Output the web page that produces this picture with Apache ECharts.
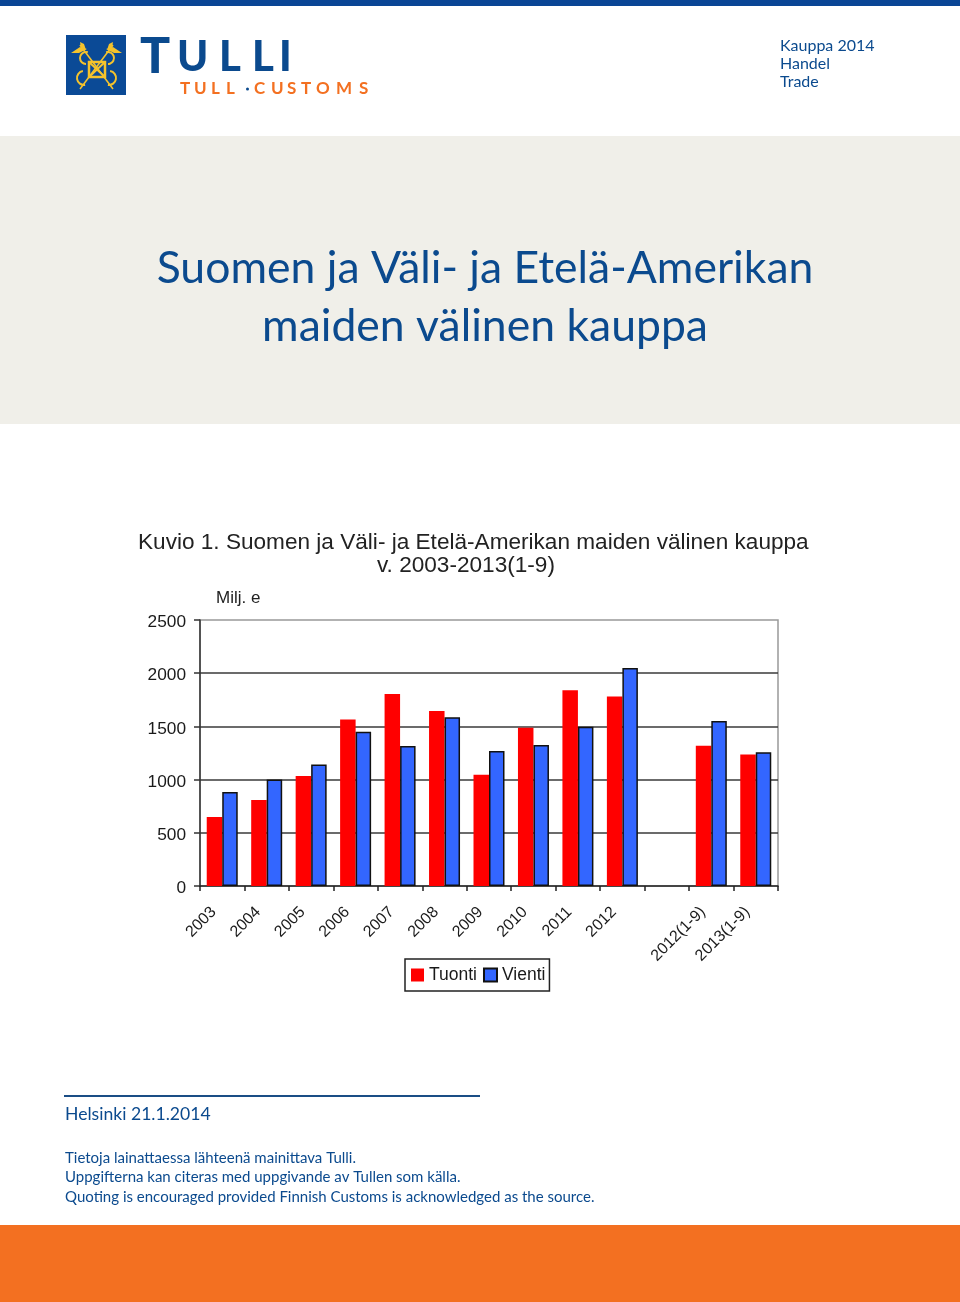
<!DOCTYPE html>
<html>
<head>
<meta charset="utf-8">
<style>
html, body { margin: 0; padding: 0; background: #fff; }
#main { width: 960px; height: 1302px; }
</style>
<script src="https://cdn.jsdelivr.net/npm/echarts@6/dist/echarts.min.js"></script>
</head>
<body>
<div id="main"></div>
<script>
const categories = ['2003', '2004', '2005', '2006', '2007', '2008', '2009', '2010', '2011', '2012', '', '2012(1-9)', '2013(1-9)']
const tuonti = [648, 808, 1034, 1566, 1804, 1645, 1046, 1488, 1839, 1782, null, 1319, 1237]
const vienti = [883, 1000, 1143, 1450, 1316, 1585, 1269, 1325, 1497, 2049, null, 1551, 1256]
const yTicks = [0, 500, 1000, 1500, 2000, 2500]

const blue = '#0b4a8e'
const gold = '#f5c32c'
const orange = '#f37021'
const gill = 'Lato'

function txt(text, x, y, size, opts = {}) {
  return {
    type: 'text',
    x: x,
    y: y,
    style: Object.assign({
      text: text,
      fill: blue,
      fontFamily: gill,
      fontSize: size,
      verticalAlign: 'middle'
    }, opts)
  }
}
function rect(x, y, w, h, fill) {
  return { type: 'rect', shape: { x, y, width: w, height: h }, style: { fill: fill } }
}
function gline(x1, y1, x2, y2, w = 1.5) {
  return { type: 'line', shape: { x1, y1, x2, y2 }, style: { stroke: gold, lineWidth: w } }
}
function loop(cx, cy, r, a1, a2) {
  return { type: 'arc', shape: { cx, cy, r, startAngle: a1, endAngle: a2 }, style: { stroke: gold, lineWidth: 2, fill: null } }
}
function leaf(points) {
  return { type: 'polygon', shape: { points: points }, style: { fill: gold } }
}

// logo letters placed one by one, canvas text has no tracking here
const bigLetters = [['T', 140, 57, 50], ['U', 177, 57, 42], ['L', 219, 57, 42], ['L', 252, 57, 42], ['I', 279, 57, 42]]
const smallLetters = [['T', 180], ['U', 194], ['L', 211], ['L', 226], ['C', 254], ['U', 271], ['S', 287], ['T', 301], ['O', 316], ['M', 336], ['S', 359]]

const graphic = [
  rect(0, 0, 960, 6, '#0a4595'),
  rect(0, 136, 960, 288, '#f0efe9'),
  rect(0, 1225, 960, 77, orange),
  // logo
  rect(66, 35, 60, 60, '#0b4a96'),
  gline(80, 45, 113, 89),
  gline(113, 45, 80, 89),
  { type: 'rect', shape: { x: 89, y: 62, width: 16, height: 15 }, style: { stroke: gold, lineWidth: 2.5, fill: null } },
  gline(89, 62, 105, 77, 2),
  gline(105, 62, 89, 77, 2),
  loop(86, 58, 6, Math.PI * 0.5, Math.PI * 1.6),
  loop(108, 58, 6, -Math.PI * 0.6, Math.PI * 0.5),
  loop(84, 78, 7, Math.PI * 0.45, Math.PI * 1.45),
  loop(109, 78, 7, -Math.PI * 0.45, Math.PI * 0.55),
  leaf([[71, 53], [80, 47], [87, 49], [79, 53]]),
  leaf([[80, 42], [84, 44], [86, 50], [81, 48]]),
  leaf([[122, 53], [113, 47], [106, 49], [114, 53]]),
  leaf([[113, 42], [109, 44], [107, 50], [112, 48]]),
  txt('Kauppa 2014', 780, 46, 16),
  txt('Handel', 780, 64, 16),
  txt('Trade', 780, 82, 16),
  txt('Suomen ja Väli- ja Etelä-Amerikan', 485, 269, 44.5, { align: 'center' }),
  txt('maiden välinen kauppa', 485, 327, 44.5, { align: 'center' }),
  { type: 'line', shape: { x1: 64, y1: 1096, x2: 480, y2: 1096 }, style: { stroke: '#1a4d85', lineWidth: 2 } },
  txt('Helsinki 21.1.2014', 65, 1114, 17.6),
  txt('Tietoja lainattaessa lähteenä mainittava Tulli.', 65, 1158, 15),
  txt('Uppgifterna kan citeras med uppgivande av Tullen som källa.', 65, 1177, 15),
  txt('Quoting is encouraged provided Finnish Customs is acknowledged as the source.', 65, 1197, 15),
  { type: 'circle', shape: { cx: 247.5, cy: 89, r: 1.5 }, style: { fill: blue } }
]
bigLetters.forEach(l => {
  graphic.push(txt(l[0], l[1], l[2], l[3], { fontWeight: 900 }))
})
smallLetters.forEach(l => {
  graphic.push(txt(l[0], l[1], 89, 17, { fill: orange, fontWeight: 'bold' }))
})

const titleStyle = { fontFamily: 'Liberation Sans', fontWeight: 'normal', fontSize: 22.6, color: '#222' }

var chartDom = document.getElementById('main')
var myChart = echarts.init(chartDom, null, { renderer: 'canvas' })
var option = {
  animation: false,
  backgroundColor: '#fff',
  textStyle: { fontFamily: 'Liberation Sans', color: '#1a1a1a' },
  title: [
    { text: 'Kuvio 1. Suomen ja Väli- ja Etelä-Amerikan maiden välinen kauppa', left: 133, top: 526, textStyle: titleStyle },
    { text: 'v. 2003-2013(1-9)', left: 372, top: 549, textStyle: titleStyle }
  ],
  grid: {
    left: 200,
    top: 620,
    width: 578,
    height: 266,
    show: true,
    borderColor: '#999',
    borderWidth: 1.5,
    backgroundColor: 'transparent'
  },
  legend: {
    left: 405,
    top: 959,
    orient: 'horizontal',
    icon: 'rect',
    itemWidth: 13,
    itemHeight: 13,
    itemGap: 6,
    padding: [7, 4, 7, 6],
    borderColor: '#222',
    borderWidth: 1.5,
    textStyle: { fontFamily: 'Liberation Sans', fontSize: 17.5, color: '#1a1a1a' },
    data: ['Tuonti', 'Vienti']
  },
  xAxis: {
    type: 'category',
    data: categories,
    axisLine: { lineStyle: { color: '#222', width: 1.5 } },
    axisTick: { show: true, alignWithLabel: false, length: 5, lineStyle: { color: '#222', width: 1.5 } },
    axisLabel: { interval: 0, rotate: 45, fontSize: 16, margin: 15, padding: [0, 12, 0, 0], color: '#1a1a1a' }
  },
  yAxis: {
    type: 'value',
    min: yTicks[0],
    max: yTicks[yTicks.length - 1],
    interval: yTicks[1] - yTicks[0],
    name: 'Milj. e',
    nameLocation: 'end',
    nameGap: 13,
    nameTextStyle: { fontFamily: 'Liberation Sans', fontSize: 17, color: '#222', align: 'left', padding: [0, 0, 0, 16] },
    axisLine: { show: true, lineStyle: { color: '#333', width: 1.5 } },
    axisTick: { show: true, length: 6, lineStyle: { color: '#333', width: 1.5 } },
    axisLabel: {
      margin: 14,
      formatter: v => '{v|' + v + '}',
      rich: { v: { fontSize: 17.3, color: '#1a1a1a', padding: [5, 0, 0, 0] } }
    },
    splitLine: { show: true, showMinLine: false, showMaxLine: false, lineStyle: { color: '#3a3a3a', width: 1.5 } }
  },
  series: [
    {
      name: 'Tuonti',
      type: 'bar',
      data: tuonti,
      barWidth: 15.5,
      barGap: 0,
      itemStyle: { color: '#ff0000' }
    },
    {
      name: 'Vienti',
      type: 'bar',
      data: vienti,
      barWidth: 15.5,
      barGap: 0,
      itemStyle: { color: '#3366ff', borderColor: '#111', borderWidth: 1.5 }
    }
  ],
  graphic: graphic
}
option && myChart.setOption(option)
</script>
</body>
</html>
